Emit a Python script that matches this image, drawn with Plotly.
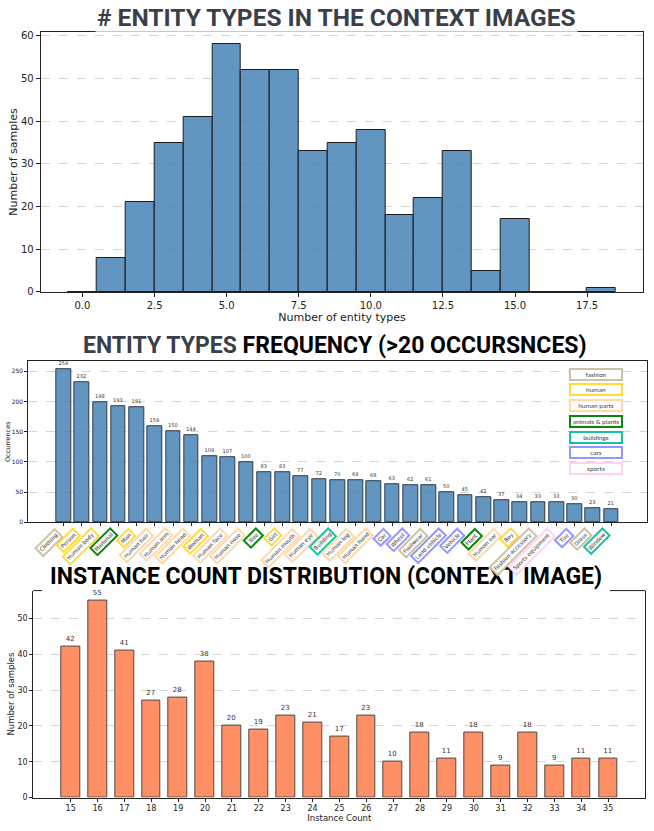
import plotly.graph_objects as go

# ---------------- data ----------------
entity_type_bins = list(range(0, 19))
entity_type_counts = [0, 8, 21, 35, 41, 58, 52, 52, 33, 35, 38, 18, 22, 33, 5, 17, 0, 0, 1]

entity_labels = ["Clothing", "Person", "Human body", "Mammal", "Man", "Human hair", "Human arm",
                 "Human head", "Woman", "Human face", "Human nose", "Tree", "Girl", "Human mouth",
                 "Human eye", "Building", "Human leg", "Human hand", "Car", "Wheel", "Footwear",
                 "Land vehicle", "Vehicle", "Plant", "Human ear", "Boy", "Fashion accessory",
                 "Sports equipment", "Tire", "Dress", "Window"]
entity_freq = [254, 232, 198, 193, 191, 159, 150, 144, 109, 107, 100, 83, 83, 77, 72, 70,
               69, 68, 63, 62, 61, 50, 45, 42, 37, 34, 33, 33, 30, 23, 21]
entity_group = ["fashion", "human", "human", "animals & plants", "human", "human parts",
                "human parts", "human parts", "human", "human parts", "human parts",
                "animals & plants", "human", "human parts", "human parts", "buildings",
                "human parts", "human parts", "cars", "cars", "fashion", "cars", "cars",
                "animals & plants", "human parts", "human", "fashion", "sports", "cars",
                "fashion", "buildings"]
group_names = ["fashion", "human", "human parts", "animals & plants", "buildings", "cars", "sports"]
group_colors = ["#cbc2a3", "#ffdc3c", "#ffd9aa", "#0c860c", "#14c2a4", "#9696ff", "#ffd2f2"]

instance_counts = list(range(15, 36))
instance_samples = [42, 55, 41, 27, 28, 38, 20, 19, 23, 21, 17, 23, 10, 18, 11, 18, 9, 18, 9, 11, 11]

# ---------------- layout helpers ----------------
W, H = 654, 831
def fx(px):
    return px / W
def fy(py):
    return 1 - py / H

BLUE = "rgba(70,130,180,0.85)"
CORAL = "rgba(255,127,80,0.88)"
GRID = "#d6d6d6"
TXT = "#222222"
FONT = "DejaVu Sans"

fig = go.Figure()

fig.add_trace(go.Bar(
    x=entity_type_bins, y=entity_type_counts, width=1,
    marker=dict(color=BLUE, line=dict(color="#1c1c1c", width=1)),
    xaxis="x", yaxis="y", showlegend=False, hoverinfo="x+y"))

fig.add_trace(go.Bar(
    x=entity_labels, y=entity_freq, width=0.8,
    marker=dict(color=BLUE, line=dict(color="#2e3b48", width=1)),
    text=[str(v) for v in entity_freq], textposition="outside", cliponaxis=False,
    textfont=dict(size=5, color="#333", family=FONT), constraintext="none",
    xaxis="x2", yaxis="y2", showlegend=False))

fig.add_trace(go.Bar(
    x=instance_counts, y=instance_samples, width=0.7,
    marker=dict(color=CORAL, line=dict(color="#4a4a4a", width=1)),
    text=[str(v) for v in instance_samples], textposition="outside", cliponaxis=False,
    textfont=dict(size=7, color="#333", family=FONT), constraintext="none",
    xaxis="x3", yaxis="y3", showlegend=False))

axis_common = dict(showline=True, linecolor="#222", linewidth=1, mirror=True,
                   ticks="outside", tickcolor="#222", zeroline=False)
axis_nomirror = dict(showline=True, linecolor="#222", linewidth=1, mirror=False,
                     ticks="outside", tickcolor="#222", zeroline=False)

fig.update_layout(
    width=W, height=831, margin=dict(l=0, r=0, t=0, b=0),
    plot_bgcolor="white", paper_bgcolor="white",
    font=dict(family=FONT, color=TXT),
    bargap=0,
    xaxis=dict(domain=[fx(40.7), fx(643.3)], anchor="y", range=[-1.45, 19.45],
               tickmode="linear", tick0=0, dtick=2.5, tickformat=".1f", ticklen=4,
               tickfont=dict(size=10), showgrid=False,
               title=dict(text="Number of entity types", font=dict(size=11), standoff=3),
               **axis_common),
    yaxis=dict(domain=[fy(292.7), fy(30.3)], anchor="x", range=[0, 60.9], dtick=10,
               ticklen=4, tickfont=dict(size=10), showgrid=True, gridcolor=GRID,
               griddash="dash", gridwidth=0.8,
               title=dict(text="Number of samples", font=dict(size=11), standoff=1),
               **axis_common),
    xaxis2=dict(domain=[fx(28.3), fx(646.7)], anchor="y2", range=[-1.94, 31.94],
                type="category", showticklabels=False, ticklen=3, showgrid=False,
                **axis_common),
    yaxis2=dict(domain=[fy(525.3), fy(362.7)], anchor="x2", range=[0, 266.7], dtick=50,
                ticklen=3, tickfont=dict(size=6), showgrid=True, gridcolor=GRID,
                griddash="dash", gridwidth=0.8,
                title=dict(text="Occurrences", font=dict(size=6.5), standoff=0),
                **axis_common),
    xaxis3=dict(domain=[fx(33.3), fx(645.3)], anchor="y3", range=[13.61, 36.38],
                tickmode="array", tickvals=instance_counts, ticklen=3,
                tickfont=dict(size=8), showgrid=False,
                title=dict(text="Instance Count", font=dict(size=8.5), standoff=2),
                **axis_nomirror),
    yaxis3=dict(domain=[fy(803.3), fy(594.3)], anchor="x3", range=[0, 57.75], dtick=10,
                ticklen=3, tickfont=dict(size=8), showgrid=True, gridcolor=GRID,
                griddash="dash", gridwidth=0.8,
                title=dict(text="Number of samples", font=dict(size=8.5), standoff=1),
                **axis_common),
)

# the bottom title sits on the plot frame: only the two ends of its top edge show
for a, b in [(33.3, 42), (610, 645.3)]:
    fig.add_shape(type="line", xref="paper", yref="paper", x0=fx(a), x1=fx(b),
                  y0=fy(594.3), y1=fy(594.3), line=dict(color="#222", width=1), layer="above")

annotations = []
# titles
TFONT = "Roboto"
annotations.append(dict(text="<b># ENTITY TYPES IN THE CONTEXT IMAGES</b>",
                        xref="paper", yref="paper", x=fx(336), y=fy(16),
                        xanchor="center", yanchor="middle", showarrow=False,
                        font=dict(family=TFONT, size=24.5, color="#3a3f49"),
                        bgcolor="rgba(255,255,255,0.75)"))
annotations.append(dict(text="<b><span style='color:#3a3f49'>ENTITY TYPES</span> FREQUENCY (&gt;20 OCCURSNCES)</b>",
                        xref="paper", yref="paper", x=fx(335), y=fy(347),
                        xanchor="center", yanchor="middle", showarrow=False,
                        font=dict(family=TFONT, size=23, color="#000000")))
annotations.append(dict(text="<b>INSTANCE COUNT DISTRIBUTION (CONTEXT IMAGE)</b>",
                        xref="paper", yref="paper", x=fx(326), y=fy(580),
                        xanchor="center", yanchor="middle", showarrow=False,
                        font=dict(family=TFONT, size=23, color="#000000")))

# boxed, rotated category labels
cmap = dict(zip(group_names, group_colors))
for lab, grp in zip(entity_labels, entity_group):
    annotations.append(dict(text=lab, xref="x2", yref="y2", x=lab, y=0, yshift=-5,
                            xanchor="right", yanchor="top", textangle=-45,
                            showarrow=False, font=dict(size=5.5, color="#333", family=FONT),
                            bordercolor=cmap[grp], borderwidth=2, borderpad=1,
                            bgcolor="white"))

# group legend
for i, (g, c) in enumerate(zip(group_names, group_colors)):
    annotations.append(dict(text=g, xref="paper", yref="paper", x=fx(595.7),
                            y=fy(375.7 + i * 15.9), xanchor="center", yanchor="middle",
                            showarrow=False, width=50, height=9,
                            font=dict(size=6.5, color="#444", family="Lato"),
                            bordercolor=c, borderwidth=2, borderpad=0, bgcolor="white"))

fig.update_layout(annotations=annotations)

fig.write_html("out.html")
